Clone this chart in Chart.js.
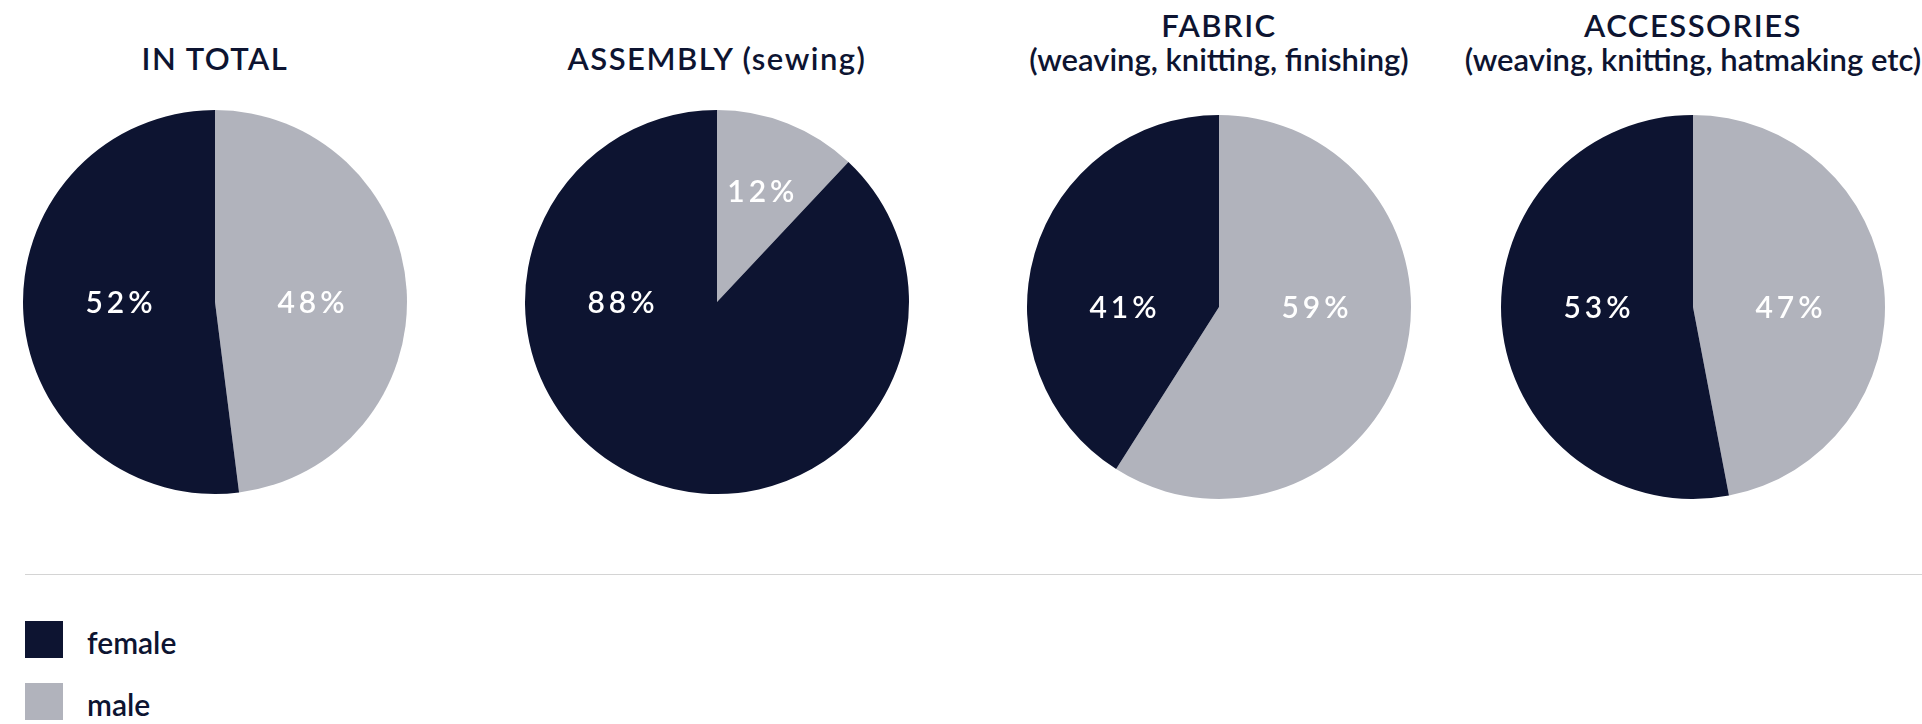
<!DOCTYPE html>
<html>
<head>
<meta charset="utf-8">
<script src="https://cdn.jsdelivr.net/npm/chart.js@4/dist/chart.umd.min.js"></script>
<style>
  body { margin: 0; background: #fff; width: 1922px; height: 724px; position: relative; overflow: hidden; font-family: Lato, sans-serif; color: #0d1431; }
  .title { position: absolute; width: 520px; text-align: center; font-size: 31px; line-height: 34px; font-weight: 600; white-space: nowrap; }
  .title .head { letter-spacing: 1.5px; }
  .pie { position: absolute; }
  .rule { position: absolute; left: 25px; right: 0; top: 574px; height: 1px; background: #d4d4d4; }
  .key { position: absolute; left: 25px; width: 38px; height: 37px; }
  .keytext { position: absolute; left: 87px; font-size: 30px; line-height: 36px; font-weight: 600; }
</style>
</head>
<body>

<script>
// Share of female and male workers by production stage (%)
const categories = ['IN TOTAL', 'ASSEMBLY (sewing)', 'FABRIC', 'ACCESSORIES'];
const subtitles = ['', '', '(weaving, knitting, finishing)', '(weaving, knitting, hatmaking etc)'];
const female = [52, 88, 41, 53];
const male = [48, 12, 59, 47];
const seriesNames = ['female', 'male'];

const DARK = '#0d1431';
const GREY = '#b1b3bc';

// where each pie sits on the page
const centers = [[215, 302], [717, 302], [1219, 306.5], [1693, 306.5]];
const RADIUS = 192;
const SIZE = 400;
const LABEL_SPACING = 4;

// white percentage label inside each slice
const sliceLabels = {
  id: 'sliceLabels',
  afterDatasetsDraw(chart) {
    const ctx = chart.ctx;
    const meta = chart.getDatasetMeta(0);
    const values = chart.data.datasets[0].data;
    ctx.save();
    ctx.fillStyle = '#ffffff';
    ctx.font = '600 30px Lato';
    ctx.letterSpacing = LABEL_SPACING + 'px';
    ctx.textAlign = 'center';
    ctx.textBaseline = 'middle';
    meta.data.forEach((arc, i) => {
      const p = arc.getProps(['x', 'y', 'startAngle', 'endAngle', 'outerRadius']);
      // put the label on the horizontal if the slice reaches it, otherwise mid-slice
      let best = null, margin = -1;
      [0, Math.PI].forEach(a => {
        if (a > p.startAngle && a < p.endAngle) {
          const m = Math.min(a - p.startAngle, p.endAngle - a);
          if (m > margin) { margin = m; best = a; }
        }
      });
      let ang, dist;
      if (best !== null) { ang = best; dist = 0.5 * p.outerRadius; }
      else { ang = (p.startAngle + p.endAngle) / 2; dist = 0.62 * p.outerRadius; }
      const x = p.x + Math.cos(ang) * dist;
      const y = p.y + Math.sin(ang) * dist;
      // letterSpacing adds a trailing gap, so nudge right by half of it
      ctx.fillText(values[i] + '%', x + LABEL_SPACING / 2, y + 1);
    });
    ctx.restore();
  }
};

categories.forEach((name, i) => {
  const [cx, cy] = centers[i];

  const t = document.createElement('div');
  t.className = 'title';
  t.style.left = (cx - 260) + 'px';
  t.style.top = (subtitles[i] ? 8 : 41) + 'px';
  t.innerHTML = '<div class="head">' + name + '</div>' + (subtitles[i] ? '<div>' + subtitles[i] + '</div>' : '');
  document.body.appendChild(t);

  const c = document.createElement('canvas');
  c.className = 'pie';
  c.width = SIZE;
  c.height = SIZE;
  c.style.left = (cx - SIZE / 2) + 'px';
  c.style.top = (cy - SIZE / 2) + 'px';
  document.body.appendChild(c);

  new Chart(c.getContext('2d'), {
    type: 'pie',
    data: {
      labels: ['male', 'female'],
      datasets: [{
        data: [male[i], female[i]],
        backgroundColor: [GREY, DARK],
        borderWidth: 0,
        hoverOffset: 0
      }]
    },
    options: {
      responsive: false,
      animation: false,
      radius: RADIUS,
      layout: { padding: 0 },
      plugins: { legend: { display: false }, tooltip: { enabled: false } }
    },
    plugins: [sliceLabels]
  });
});

// divider and legend
const rule = document.createElement('div');
rule.className = 'rule';
document.body.appendChild(rule);

const keyColors = [DARK, GREY];
seriesNames.forEach((s, i) => {
  const top = 621 + i * 62;
  const box = document.createElement('div');
  box.className = 'key';
  box.style.top = top + 'px';
  box.style.background = keyColors[i];
  document.body.appendChild(box);
  const txt = document.createElement('div');
  txt.className = 'keytext';
  txt.style.top = (top + 3) + 'px';
  txt.textContent = s;
  document.body.appendChild(txt);
});
</script>
</body>
</html>
